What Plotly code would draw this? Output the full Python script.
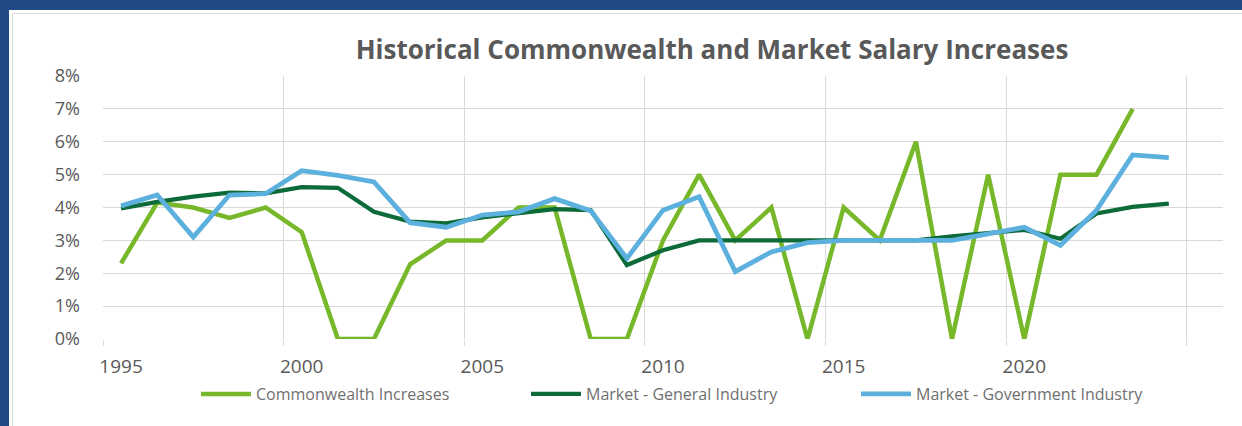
import plotly.graph_objects as go

years = list(range(1995, 2025))
commonwealth = [2.3, 4.15, 4.0, 3.68, 4.0, 3.25, 0, 0, 2.27, 3.0, 3.0, 4.0, 4.0, 0, 0, 3.0, 5.0, 3.0, 4.0, 0,
                4.0, 3.0, 6.0, 0, 5.0, 0, 5.0, 5.0, 7.0, None]
market_general = [3.97, 4.17, 4.33, 4.45, 4.43, 4.62, 4.6, 3.87, 3.57, 3.52, 3.7, 3.82, 3.95, 3.92, 2.25, 2.7, 3.0,
                  3.0, 3.0, 3.0, 3.0, 3.0, 3.0, 3.12, 3.22, 3.32, 3.05, 3.82, 4.02, 4.12]
market_government = [4.05, 4.38, 3.1, 4.38, 4.42, 5.12, 4.98, 4.78, 3.54, 3.4, 3.77, 3.87, 4.27, 3.9, 2.45, 3.92,
                     4.33, 2.05, 2.65, 2.93, 3.0, 3.0, 3.0, 3.0, 3.2, 3.4, 2.85, 3.92, 5.6, 5.52]
series_names = ["Commonwealth Increases", "Market - General Industry", "Market - Government Industry"]
x_tick_labels = [1995, 2000, 2005, 2010, 2015, 2020]
y_ticks = list(range(0, 9))
y_tick_labels = [f"{v}%" for v in y_ticks]

W, H = 1242, 426
ML, MR, MT, MB = 103, 19, 76, 87
PW, PH = W - ML - MR, H - MT - MB
FONT = "Open Sans"


def px_x(p):
    return (p - ML) / PW


def px_y(p):
    return (H - MB - p) / PH


fig = go.Figure()
colors = ["#77b82a", "#0c6b38", "#5cb0de"]
widths = [4.5, 4.2, 4.8]
for name, vals, c, w in zip(series_names, [commonwealth, market_general, market_government], colors, widths):
    fig.add_trace(go.Scatter(x=years, y=vals, name=name, mode="lines",
                             line=dict(color=c, width=w), connectgaps=False))

fig.update_layout(
    width=W, height=H,
    margin=dict(l=ML, r=MR, t=MT, b=MB),
    paper_bgcolor="#1f4a86",
    plot_bgcolor="white",
    font=dict(family=FONT, color="#595959"),
    title=dict(text="<b>Historical Commonwealth and Market Salary Increases</b>",
               x=px_x(712), xref="paper", xanchor="center",
               y=1 - 50 / H, yref="container", yanchor="middle",
               font=dict(family=FONT, size=26, color="#595959")),
    showlegend=True,
    legend=dict(orientation="h", x=px_x(196), xanchor="left", y=px_y(394), yanchor="middle",
                font=dict(family=FONT, size=16, color="#6f6f6f"),
                entrywidth=265, entrywidthmode="pixels", itemwidth=50,
                bgcolor="rgba(0,0,0,0)", traceorder="normal"),
    shapes=[
        dict(type="rect", xref="paper", yref="paper", layer="below",
             x0=px_x(9), x1=px_x(1260), y0=px_y(10), y1=px_y(440),
             fillcolor="white", line=dict(width=0)),
        dict(type="rect", xref="paper", yref="paper", layer="below",
             x0=px_x(12.5), x1=px_x(1260), y0=px_y(13.5), y1=px_y(440),
             fillcolor="rgba(0,0,0,0)", line=dict(color="#d9d9d9", width=1)),
    ],
)

fig.update_xaxes(
    range=[1994.5, 2025.5],
    tickvals=x_tick_labels, ticktext=[str(v) for v in x_tick_labels],
    ticks="", showgrid=False, zeroline=False, showline=False,
    tickfont=dict(family=FONT, size=19, color="#595959"),
    ticklabelstandoff=14,
    minor=dict(tickvals=[1994.5 + 5 * i for i in range(7)], showgrid=True, gridcolor="#d9d9d9",
               gridwidth=1, ticks="outside", ticklen=6, tickcolor="#d9d9d9", tickwidth=1),
)
fig.update_yaxes(
    range=[0, 8], tickvals=y_ticks, ticktext=y_tick_labels,
    showgrid=True, gridcolor="#d9d9d9", gridwidth=1, zeroline=False, showline=False,
    tickfont=dict(family=FONT, size=18, color="#595959"),
    ticklabelstandoff=22,
)

fig.write_html("out.html")
